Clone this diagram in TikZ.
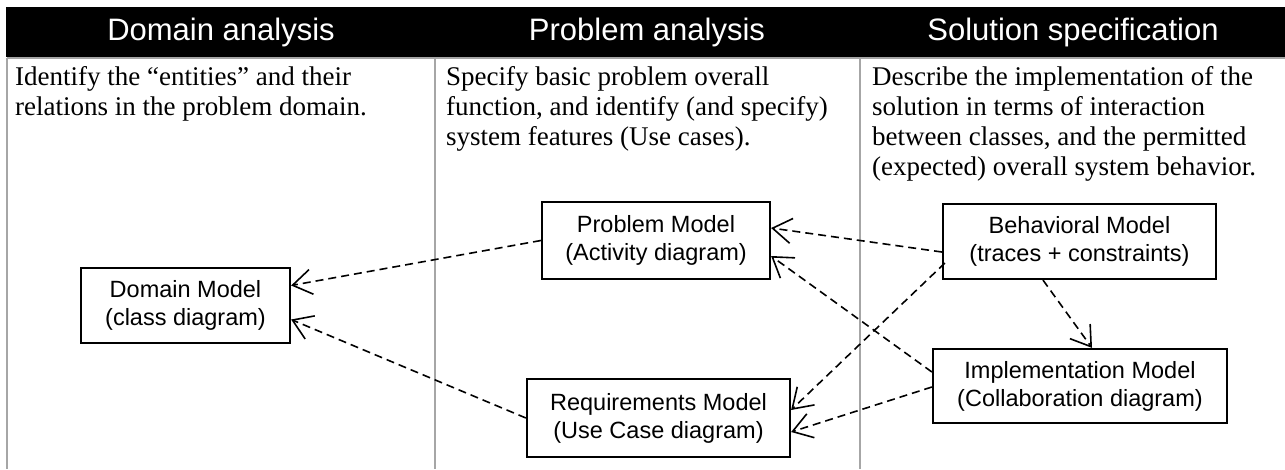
\documentclass[tikz,border=0pt]{standalone}
\usepackage{fontspec}
\setmainfont{Liberation Serif}
\setsansfont{Liberation Sans}
\usetikzlibrary{arrows.meta}

\begin{document}
\begin{tikzpicture}[x=1pt,y=-1pt,
  model/.style={draw,line width=2.2pt,inner sep=0pt,align=center,
    font=\sffamily\fontsize{23.5}{28}\selectfont},
  head/.style={text=white,inner sep=0pt,font=\sffamily\fontsize{31}{36}\selectfont},
  desc/.style={anchor=north west,align=left,inner sep=0pt,
    font=\fontsize{27}{30}\selectfont},
  dep/.style={dash pattern=on 8pt off 5pt,line width=1.6pt,
    -{Straight Barb[length=19pt,width=25pt,line width=1.6pt]}},
  colrule/.style={draw=black!35,line width=2pt}
]
\useasboundingbox (0,0) rectangle (1285,469);

% title bar and column rules
\fill (6,7) rectangle (1285,57);
\draw[colrule] (7,58) -- (1285,58);
\draw[colrule] (7,58) -- (7,469);
\draw[colrule] (435,58) -- (435,469);
\draw[colrule] (860,58) -- (860,469);

% column titles
\node[head] (h1) at (221,32) {Domain analysis};
\node[head] (h2) at (647,32) {Problem analysis};
\node[head] (h3) at (1073,32) {Solution specification};

% column descriptions
\node[desc] (d1) at (15,66.5) {Identify the “entities” and their\\relations in the problem domain.};
\node[desc] (d2) at (446,66.5) {Specify basic problem overall\\function, and identify (and specify)\\system features (Use cases).};
\node[desc] (d3) at (872,66.5) {Describe the implementation of the\\solution in terms of interaction\\between classes, and the permitted\\(expected) overall system behavior.};

% models
\node[model,minimum width=209pt,minimum height=75pt] (dom) at (185.5,305.5) {Domain Model\\(class diagram)};
\node[model,minimum width=228pt,minimum height=77pt] (prob) at (656,240.5) {Problem Model\\(Activity diagram)};
\node[model,minimum width=263pt,minimum height=78pt] (req) at (658.5,418) {Requirements Model\\(Use Case diagram)};
\node[model,minimum width=273pt,minimum height=75pt] (beh) at (1079.5,241.5) {Behavioral Model\\(traces + constraints)};
\node[model,minimum width=294pt,minimum height=74pt] (imp) at (1080,386) {Implementation Model\\(Collaboration diagram)};

% dependencies
\draw[dep] (prob.west) -- ([yshift=20pt]dom.east);
\draw[dep] (req.west) -- ([yshift=-14pt]dom.east);
\draw[dep] ([yshift=-10.5pt]beh.west) -- ([yshift=12.5pt]prob.east);
\draw[dep] ([xshift=3pt,yshift=-21.5pt]beh.west) -- ([yshift=8pt]req.east);
\draw[dep] ([yshift=14pt]imp.west) -- ([yshift=-15.5pt]prob.east);
\draw[dep] ([yshift=-1pt]imp.west) -- ([yshift=-14pt]req.east);
\draw[dep] ([xshift=-36.5pt]beh.south) -- ([xshift=12pt]imp.north);
\end{tikzpicture}
\end{document}
